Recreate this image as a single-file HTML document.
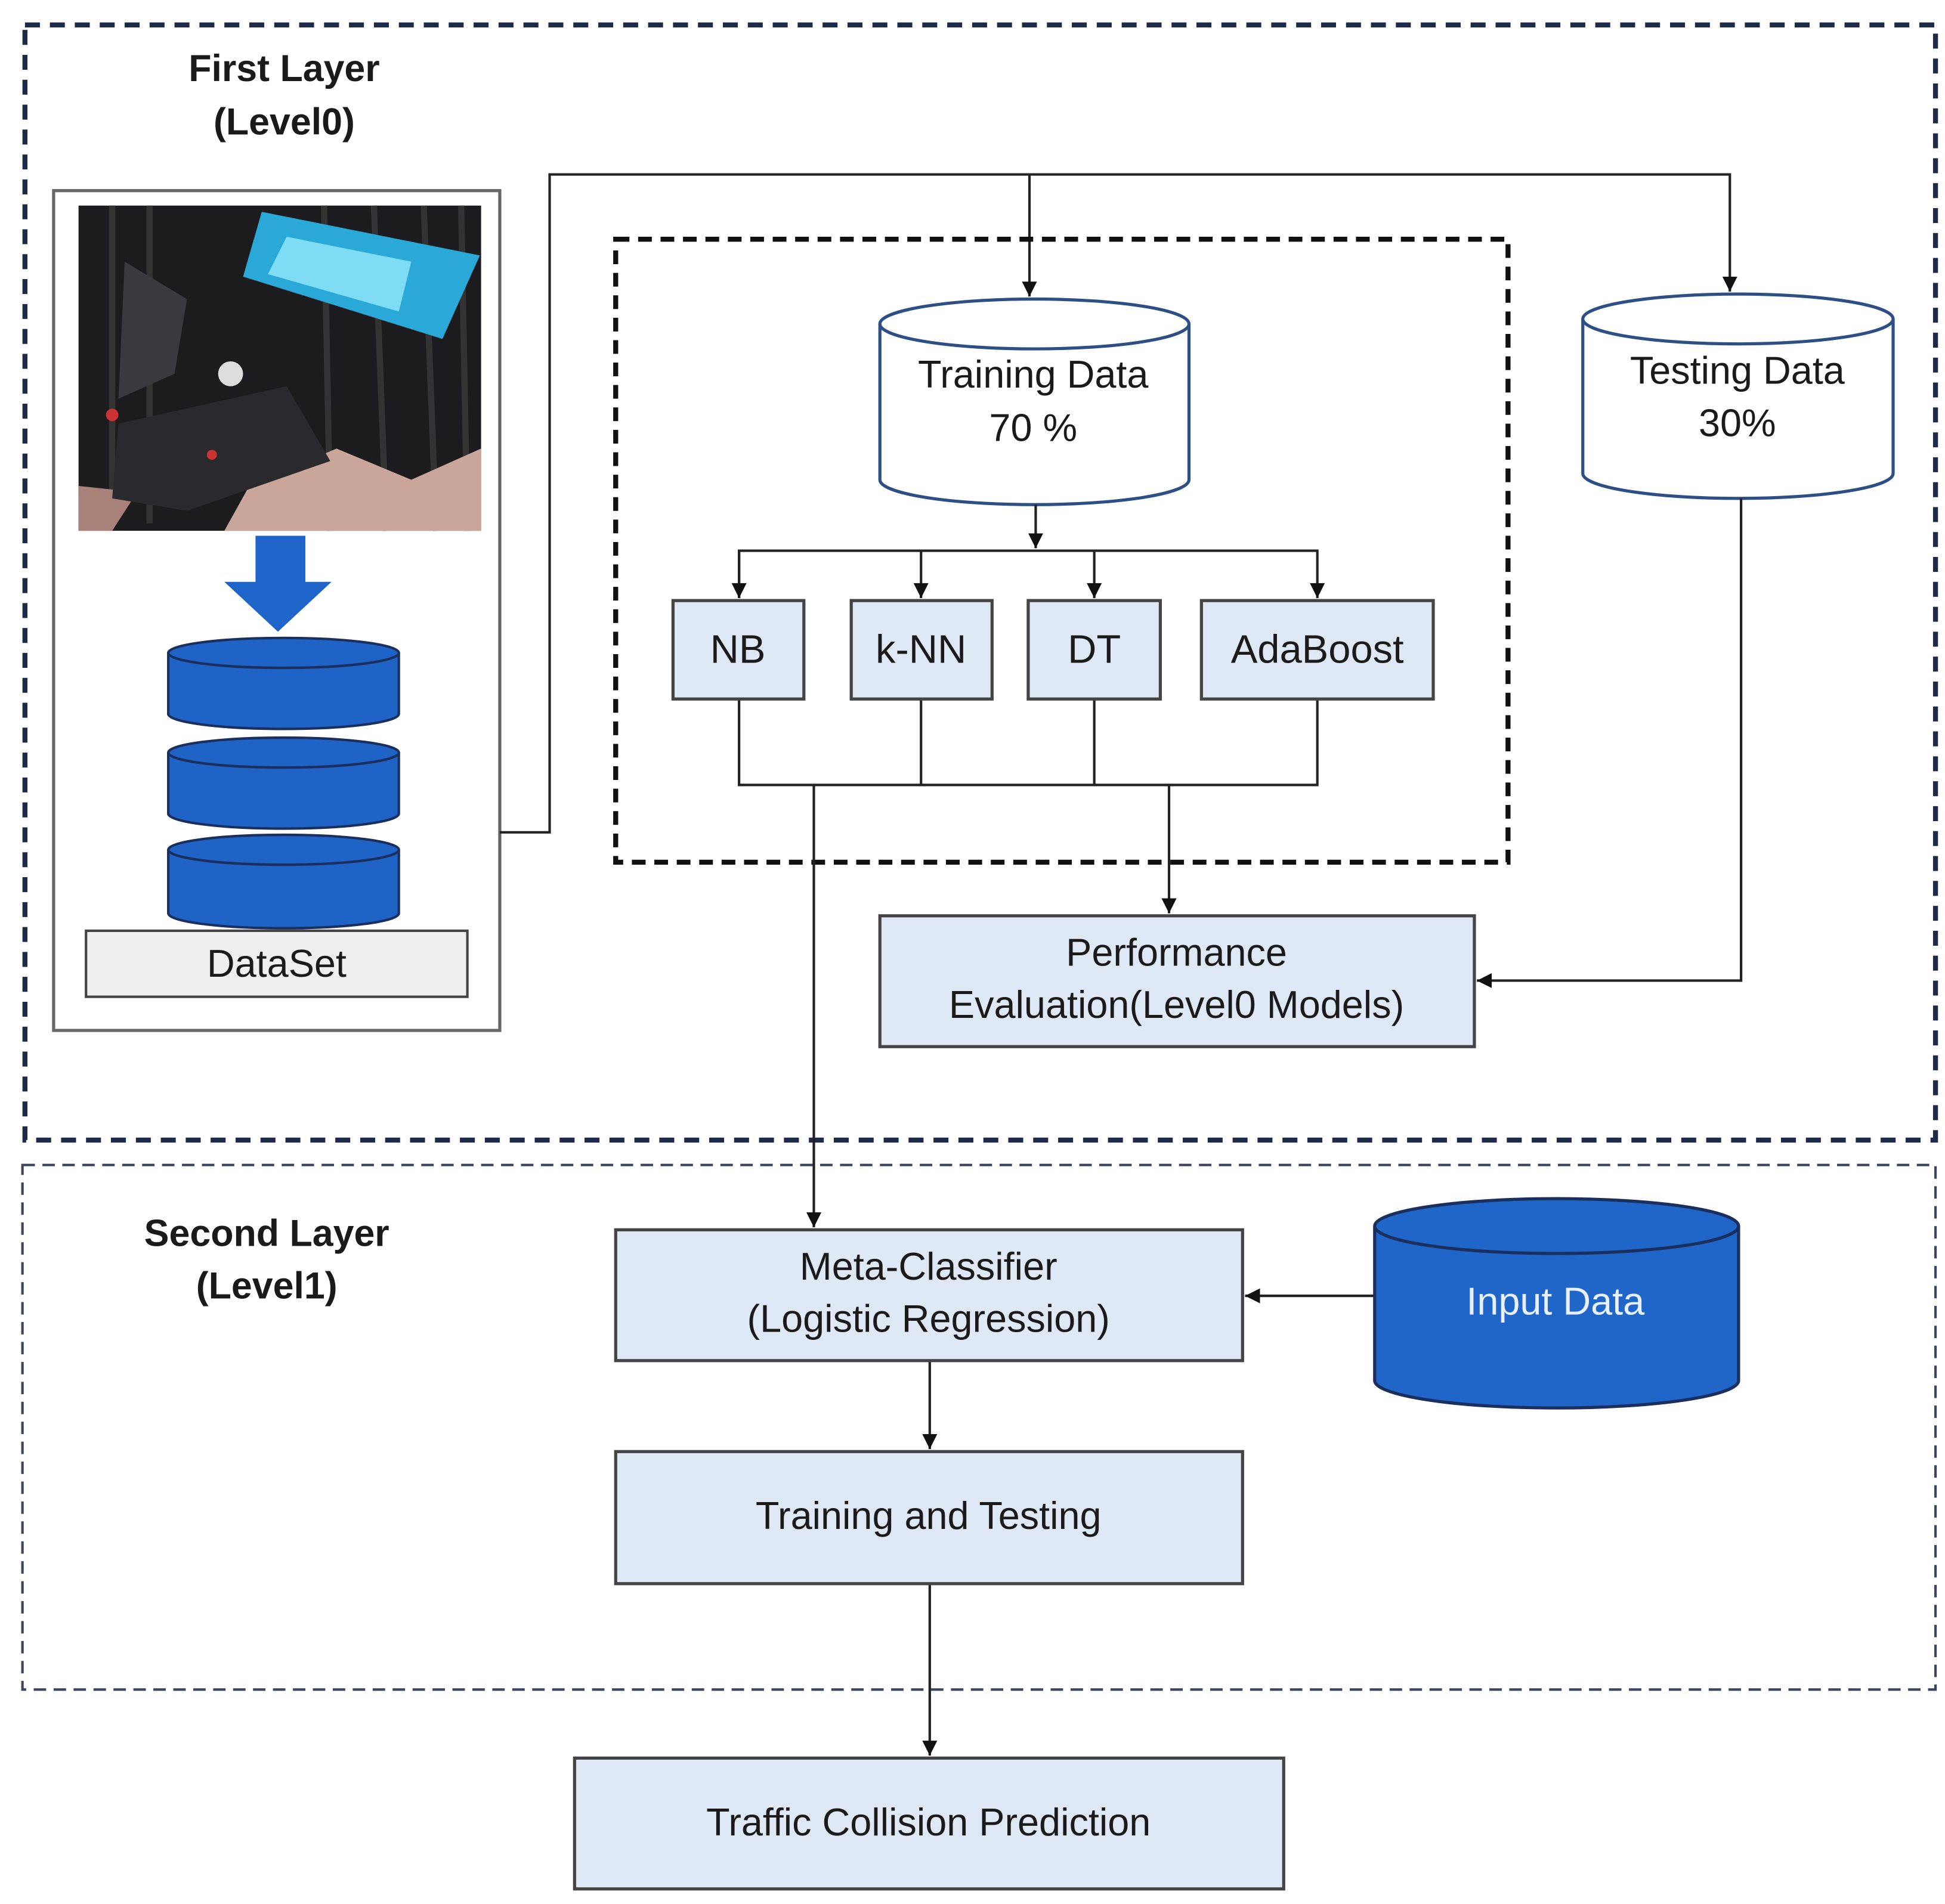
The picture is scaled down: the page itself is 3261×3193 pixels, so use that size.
<!DOCTYPE html>
<html><head><meta charset="utf-8"><style>
html,body{margin:0;padding:0;background:#fff}
svg{display:block}
text{font-family:"Liberation Sans",Arial,sans-serif;fill:#1a1a1a}
</style></head><body>
<svg width="3261" height="3193" viewBox="0 0 1560.6 1528.1" xmlns="http://www.w3.org/2000/svg">
<defs>
<marker id="ar" viewBox="0 0 10 10" refX="10" refY="5" markerWidth="12" markerHeight="12" markerUnits="userSpaceOnUse" orient="auto">
<path d="M0,0 L10,5 L0,10 z" fill="#111"/></marker>
</defs>
<rect width="1560.6" height="1528.1" fill="#fff"/>
<!-- layer boxes -->
<rect x="20" y="20" width="1533" height="895" fill="none" stroke="#1e2b48" stroke-width="4" stroke-dasharray="12,8"/>
<rect x="18" y="935" width="1535" height="421" fill="none" stroke="#3a4660" stroke-width="2" stroke-dasharray="10,6"/>
<text x="228" y="65" font-size="30" font-weight="bold" text-anchor="middle">First Layer</text>
<text x="228" y="108" font-size="30" font-weight="bold" text-anchor="middle">(Level0)</text>
<text x="214" y="1000" font-size="30" font-weight="bold" text-anchor="middle">Second Layer</text>
<text x="214" y="1042" font-size="30" font-weight="bold" text-anchor="middle">(Level1)</text>
<!-- left box -->
<rect x="43" y="153" width="358" height="674" fill="#fff" stroke="#666" stroke-width="2.5"/>
<!-- photo -->
<rect x="63" y="165" width="323" height="261" fill="#1c1c1e"/>
<g stroke="#333" stroke-width="5">
<line x1="90" y1="165" x2="90" y2="420"/><line x1="120" y1="165" x2="120" y2="420"/><line x1="260" y1="165" x2="265" y2="426"/><line x1="300" y1="165" x2="310" y2="426"/><line x1="340" y1="165" x2="350" y2="426"/><line x1="370" y1="165" x2="375" y2="426"/>
</g>
<path d="M210,170 L385,205 L355,272 L195,222 z" fill="#2aa8d8"/>
<path d="M230,190 L330,210 L320,250 L215,220 z" fill="#7fdcf5"/>
<path d="M200,390 L270,360 L330,385 L386,360 L386,426 L180,426 z" fill="#c9a59a"/>
<path d="M63,390 L110,395 L90,426 L63,426 z" fill="#a88278"/>
<path d="M100,210 L150,240 L140,300 L95,320 z" fill="#3a3a3e"/>
<path d="M95,340 L230,310 L265,370 L150,410 L90,400 z" fill="#2a2a2e"/>
<circle cx="185" cy="300" r="10" fill="#ddd"/>
<circle cx="90" cy="333" r="5" fill="#c33"/><circle cx="170" cy="365" r="4" fill="#c33"/>
<!-- blue arrow -->
<path d="M205,430 L245,430 L245,467 L266,467 L223,507 L180,467 L205,467 z" fill="#1f64c8"/>
<!-- cylinders -->
<g fill="#1f63c6" stroke="#1a2f5e" stroke-width="2">
<path d="M135,524 L135,573 A92.5,12 0 0 0 320,573 L320,524"/><ellipse cx="227.5" cy="524" rx="92.5" ry="12"/>
<path d="M135,604 L135,653 A92.5,12 0 0 0 320,653 L320,604"/><ellipse cx="227.5" cy="604" rx="92.5" ry="12"/>
<path d="M135,682 L135,733 A92.5,12 0 0 0 320,733 L320,682"/><ellipse cx="227.5" cy="682" rx="92.5" ry="12"/>
</g>
<rect x="69" y="747" width="306" height="53" fill="#efefef" stroke="#444" stroke-width="2"/>
<text x="222" y="784" font-size="31" text-anchor="middle">DataSet</text>
<!-- top connectors -->
<g fill="none" stroke="#222" stroke-width="2">
<polyline points="401,668 441,668 441,140 1388,140 1388,234" marker-end="url(#ar)"/>
<line x1="826" y1="140" x2="826" y2="238" marker-end="url(#ar)"/>
</g>
<!-- inner dashed -->
<rect x="494" y="192" width="716" height="500" fill="none" stroke="#111" stroke-width="4" stroke-dasharray="11,7"/>
<!-- training cylinder -->
<g fill="#fff" stroke="#2e4f86" stroke-width="2.5">
<path d="M706,260 L706,385 A124,20 0 0 0 954,385 L954,260"/><ellipse cx="830" cy="260" rx="124" ry="20"/>
<path d="M1270,256 L1270,380 A124.5,20 0 0 0 1519,380 L1519,256"/><ellipse cx="1394.5" cy="256" rx="124.5" ry="20"/>
</g>
<text x="829" y="311" font-size="31" text-anchor="middle">Training Data</text>
<text x="829" y="354" font-size="31" text-anchor="middle">70 %</text>
<text x="1394" y="308" font-size="31" text-anchor="middle">Testing Data</text>
<text x="1394" y="350" font-size="31" text-anchor="middle">30%</text>
<g fill="none" stroke="#222" stroke-width="2">
<line x1="831" y1="405" x2="831" y2="440" marker-end="url(#ar)"/>
<polyline points="593,480 593,442 1057,442 1057,480" marker-end="url(#ar)"/>
<line x1="593" y1="442" x2="593" y2="480" marker-end="url(#ar)"/>
<line x1="739" y1="442" x2="739" y2="480" marker-end="url(#ar)"/>
<line x1="878" y1="442" x2="878" y2="480" marker-end="url(#ar)"/>
<polyline points="593,561 593,630 1057,630 1057,561"/>
<line x1="739" y1="561" x2="739" y2="630"/>
<line x1="878" y1="561" x2="878" y2="630"/>
<line x1="653" y1="630" x2="653" y2="985" marker-end="url(#ar)"/>
<line x1="938" y1="630" x2="938" y2="733" marker-end="url(#ar)"/>
<polyline points="1397,400 1397,787 1185,787" marker-end="url(#ar)"/>
<line x1="1103" y1="1040" x2="999" y2="1040" marker-end="url(#ar)"/>
<line x1="746" y1="1092" x2="746" y2="1163" marker-end="url(#ar)"/>
<line x1="746" y1="1271" x2="746" y2="1409" marker-end="url(#ar)"/>
</g>
<!-- boxes -->
<g fill="#dfe8f5" stroke="#444" stroke-width="2.5">
<rect x="540" y="482" width="105" height="79"/>
<rect x="683" y="482" width="113" height="79"/>
<rect x="825" y="482" width="106" height="79"/>
<rect x="964" y="482" width="186" height="79"/>
<rect x="706" y="735" width="477" height="105"/>
<rect x="494" y="987" width="503" height="105"/>
<rect x="494" y="1165" width="503" height="106"/>
<rect x="461" y="1411" width="569" height="105"/>
</g>
<g font-size="32" text-anchor="middle">
<text x="592" y="532">NB</text>
<text x="739" y="532">k-NN</text>
<text x="878" y="532">DT</text>
<text x="1057" y="532">AdaBoost</text>
</g>
<g font-size="31" text-anchor="middle">
<text x="944" y="775">Performance</text>
<text x="944" y="817">Evaluation(Level0 Models)</text>
<text x="745" y="1027">Meta-Classifier</text>
<text x="745" y="1069">(Logistic Regression)</text>
<text x="745" y="1227">Training and Testing</text>
<text x="745" y="1473">Traffic Collision Prediction</text>
</g>
<!-- input data cylinder -->
<g fill="#1f66c8" stroke="#1a2f5e" stroke-width="2.5">
<path d="M1103,984 L1103,1108 A146,22 0 0 0 1395,1108 L1395,984"/><ellipse cx="1249" cy="984" rx="146" ry="22"/>
</g>
<text x="1248" y="1055" font-size="31" text-anchor="middle" style="fill:#e8f0ff">Input Data</text>
</svg>
</body></html>
